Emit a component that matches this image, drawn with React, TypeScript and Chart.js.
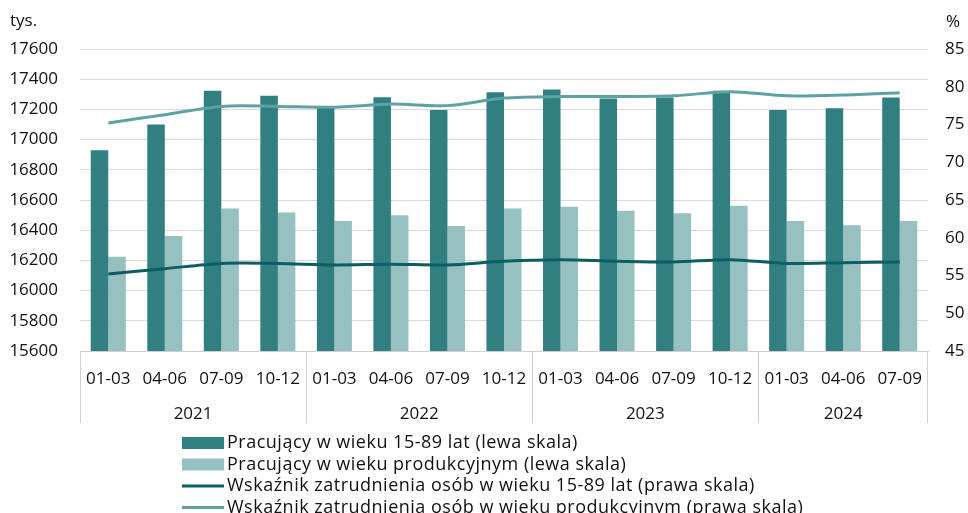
import React, { useEffect, useRef } from "react";
import { Chart, registerables } from "chart.js";

Chart.register(...registerables);

const quarters = [
  "01-03", "04-06", "07-09", "10-12",
  "01-03", "04-06", "07-09", "10-12",
  "01-03", "04-06", "07-09", "10-12",
  "01-03", "04-06", "07-09",
];
const years = ["2021", "2022", "2023", "2024"];
const quartersPerYear = [4, 4, 4, 3];

const employed1589 = [16930, 17100, 17324, 17291, 17220, 17280, 17196, 17313, 17331, 17273, 17278, 17324, 17196, 17207, 17278];
const employedWorkingAge = [16225, 16362, 16543, 16518, 16461, 16499, 16428, 16543, 16556, 16529, 16512, 16562, 16461, 16433, 16461];
const rate1589 = [55.2, 55.9, 56.6, 56.6, 56.4, 56.5, 56.4, 56.9, 57.1, 56.9, 56.8, 57.1, 56.6, 56.7, 56.8];
const rateWorkingAge = [75.2, 76.3, 77.4, 77.4, 77.3, 77.7, 77.5, 78.5, 78.7, 78.7, 78.8, 79.35, 78.8, 78.9, 79.2];

const seriesLabels = [
  "Pracujący w wieku 15-89 lat (lewa skala)",
  "Pracujący w wieku produkcyjnym (lewa skala)",
  "Wskaźnik zatrudnienia osób w wieku 15-89 lat (prawa skala)",
  "Wskaźnik zatrudnienia osób w wieku produkcyjnym (prawa skala)",
];

const C_DARK_BAR = "#327f81";
const C_LIGHT_BAR = "#97c0c1";
const C_DARK_LINE = "#0c5e63";
const C_LIGHT_LINE = "#5fa2a4";
const TEXT = "#111111";
const FONT = "'Open Sans', 'Noto Sans', sans-serif";
const GRID = "#d9d9d9";

const extrasPlugin = {
  id: "extras",
  afterDraw(chart: any) {
    const ctx = chart.ctx;
    const x = chart.scales.x;
    const yr = chart.scales.y1;
    const area = chart.chartArea;
    ctx.save();
    // year groups
    let start = 0;
    ctx.strokeStyle = "#d0d0d0";
    ctx.lineWidth = 1;
    ctx.fillStyle = TEXT;
    ctx.font = `17px ${FONT}`;
    ctx.textAlign = "center";
    ctx.textBaseline = "middle";
    const sepBottom = area.bottom + 72;
    years.forEach((yr2, i) => {
      const end = start + quartersPerYear[i] - 1;
      const x0 = x.getPixelForValue(start - 0.5);
      const x1 = x.getPixelForValue(end + 0.5);
      ctx.beginPath();
      ctx.moveTo(Math.round(x0) + 0.5, area.bottom);
      ctx.lineTo(Math.round(x0) + 0.5, sepBottom);
      ctx.stroke();
      if (i === years.length - 1) {
        ctx.beginPath();
        ctx.moveTo(Math.round(x1) - 0.5, area.bottom);
        ctx.lineTo(Math.round(x1) - 0.5, sepBottom);
        ctx.stroke();
      }
      ctx.fillText(yr2, (x0 + x1) / 2, area.bottom + 63);
      start = end + 1;
    });
    // axis titles
    ctx.textAlign = "left";
    ctx.fillText("tys.", 10, area.top - 28);
    ctx.fillText("%", yr.left + 18, area.top - 27);
    // legend
    const lx = 182;
    const ly = area.bottom + 92;
    const step = 21.5;
    chart.data.datasets.forEach((ds: any, i: number) => {
      const cy = ly + i * step;
      if (ds.type === "line") {
        ctx.strokeStyle = ds.borderColor;
        ctx.lineWidth = 3;
        ctx.beginPath();
        ctx.moveTo(lx, cy);
        ctx.lineTo(lx + 42, cy);
        ctx.stroke();
      } else {
        ctx.fillStyle = ds.backgroundColor;
        ctx.fillRect(lx, cy - 6, 42, 12);
      }
      ctx.fillStyle = TEXT;
      ctx.font = `18px ${FONT}`;
      (ctx as any).letterSpacing = "0.5px";
      ctx.textAlign = "left";
      ctx.fillText(ds.label, lx + 45, cy);
      (ctx as any).letterSpacing = "0px";
    });
    ctx.restore();
  },
};

export default function App() {
  const ref = useRef<HTMLCanvasElement | null>(null);
  useEffect(() => {
    document.body.style.margin = "0";
    const chart = new Chart(ref.current as HTMLCanvasElement, {
      type: "bar",
      data: {
        labels: quarters,
        datasets: [
          {
            type: "bar",
            label: seriesLabels[0],
            data: employed1589,
            backgroundColor: C_DARK_BAR,
            yAxisID: "y",
            order: 2,
            categoryPercentage: 0.62,
            barPercentage: 1,
          },
          {
            type: "bar",
            label: seriesLabels[1],
            data: employedWorkingAge,
            backgroundColor: C_LIGHT_BAR,
            yAxisID: "y",
            order: 2,
            categoryPercentage: 0.62,
            barPercentage: 1,
          },
          {
            type: "line",
            label: seriesLabels[2],
            data: rate1589,
            borderColor: C_DARK_LINE,
            backgroundColor: C_DARK_LINE,
            borderWidth: 3,
            pointRadius: 0,
            tension: 0.3,
            yAxisID: "y1",
            order: 0,
          },
          {
            type: "line",
            label: seriesLabels[3],
            data: rateWorkingAge,
            borderColor: C_LIGHT_LINE,
            backgroundColor: C_LIGHT_LINE,
            borderWidth: 3,
            pointRadius: 0,
            tension: 0.3,
            yAxisID: "y1",
            order: 0,
          },
        ] as any,
      },
      options: {
        animation: false,
        responsive: true,
        maintainAspectRatio: false,
        layout: { padding: { top: 49, left: 0, right: 0, bottom: 0 } },
        plugins: {
          legend: { display: false },
          tooltip: { enabled: false },
        },
        scales: {
          x: {
            grid: { display: false },
            border: { display: true, color: "#d0d0d0" },
            ticks: {
              color: TEXT,
              font: { family: FONT, size: 17 },
              padding: 10,
              maxRotation: 0,
              autoSkip: false,
            },
            afterFit: (s: any) => {
              s.height = 162;
            },
          },
          y: {
            position: "left",
            min: 15600,
            max: 17600,
            grid: { color: GRID, drawTicks: false },
            border: { display: false },
            ticks: {
              stepSize: 200,
              color: TEXT,
              font: { family: FONT, size: 17 },
              padding: 22,
              callback: (v: any) => String(v),
            },
            afterFit: (s: any) => {
              s.width = 80;
            },
          },
          y1: {
            position: "right",
            min: 45,
            max: 85,
            grid: { display: false, drawTicks: false },
            border: { display: false },
            ticks: {
              stepSize: 5,
              color: TEXT,
              font: { family: FONT, size: 17 },
              padding: 17,
              callback: (v: any) => String(v),
            },
            afterFit: (s: any) => {
              s.width = 40;
            },
          },
        },
      } as any,
      plugins: [extrasPlugin],
    });
    return () => chart.destroy();
  }, []);
  return (
    <div style={{ width: 968, height: 513, position: "relative" }}>
      <canvas ref={ref} />
    </div>
  );
}
